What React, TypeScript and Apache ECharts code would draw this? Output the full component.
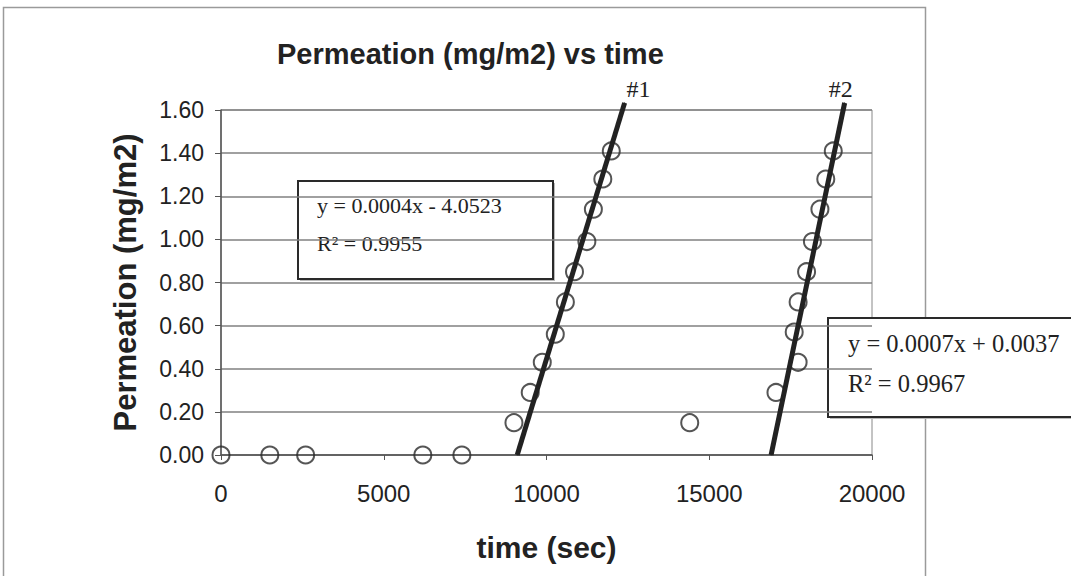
import React, { useEffect, useRef } from "react";
import * as echarts from "echarts";

const xTicks = { min: 0, max: 20000, interval: 5000 };
const yTicks = { min: 0, max: 1.6, interval: 0.2 };

const timeA = [0, 1500, 2600, 6200, 7400, 9000, 9500, 9870, 10270, 10580, 10860, 11240, 11440, 11730, 11990];
const permA = [0, 0, 0, 0, 0, 0.15, 0.29, 0.43, 0.56, 0.71, 0.85, 0.99, 1.14, 1.28, 1.41];

const timeB = [14400, 17050, 17730, 17610, 17730, 17990, 18170, 18400, 18580, 18810];
const permB = [0.15, 0.29, 0.43, 0.57, 0.71, 0.85, 0.99, 1.14, 1.28, 1.41];

const trend1Time = [9100, 12400];
const trend1Perm = [0, 1.633];
const trend2Time = [16900, 19160];
const trend2Perm = [0, 1.633];

const trendNames = ["#1", "#2"];
const eq1 = ["y = 0.0004x - 4.0523", "R² = 0.9955"];
const eq2 = ["y = 0.0007x + 0.0037", "R² = 0.9967"];

const SANS = "'Liberation Sans', Arial, sans-serif";
const SERIF = "'Liberation Serif', 'Times New Roman', serif";

function zip(xs: number[], ys: number[]) {
  return xs.map((x, i) => [x, ys[i]]);
}

function trendData(xs: number[], ys: number[], offset: number[]) {
  const pts = zip(xs, ys);
  return pts.map((p, i) =>
    i === pts.length - 1
      ? {
          value: p,
          label: {
            show: true,
            position: "top",
            distance: 3,
            offset,
            formatter: "{a}",
            fontFamily: SERIF,
            fontSize: 24,
            color: "#222",
          },
        }
      : { value: p }
  );
}

export default function App() {
  const ref = useRef<HTMLDivElement>(null);
  useEffect(() => {
    if (!ref.current) return;
    const chart = echarts.init(ref.current, null, { renderer: "svg" });
    const circleStyle = {
      color: "rgba(0,0,0,0)",
      borderColor: "#2a2a2a",
      borderWidth: 2,
    };
    chart.setOption({
      animation: false,
      backgroundColor: "#fff",
      title: {
        text: "Permeation (mg/m2) vs time",
        left: 272,
        top: 34,
        textStyle: { fontFamily: SANS, fontSize: 29, fontWeight: "bold", color: "#222" },
      },
      grid: {
        left: 221,
        right: 199,
        top: 110,
        bottom: 121,
        show: true,
        borderColor: "#888",
        borderWidth: 1,
        containLabel: false,
      },
      xAxis: {
        type: "value",
        min: xTicks.min,
        max: xTicks.max,
        interval: xTicks.interval,
        name: "time (sec)",
        nameLocation: "middle",
        nameGap: 77,
        nameTextStyle: { fontFamily: SANS, fontSize: 30, fontWeight: "bold", color: "#222" },
        axisLine: { show: true, onZero: false, lineStyle: { color: "#555", width: 1.5 } },
        axisTick: { show: true, length: 5, lineStyle: { color: "#555" } },
        axisLabel: {
          fontFamily: SANS,
          fontSize: 24,
          color: "#222",
          margin: 26,
          formatter: (v: number) => String(v),
        },
        splitLine: { show: false },
      },
      yAxis: {
        type: "value",
        min: yTicks.min,
        max: yTicks.max,
        interval: yTicks.interval,
        name: "Permeation (mg/m2)",
        nameLocation: "middle",
        nameGap: 80,
        nameTextStyle: { fontFamily: SANS, fontSize: 31, fontWeight: "bold", color: "#222" },
        axisLine: { show: true, lineStyle: { color: "#555", width: 1.5 } },
        axisTick: { show: true, length: 6, lineStyle: { color: "#555" } },
        axisLabel: {
          fontFamily: SANS,
          fontSize: 23,
          color: "#222",
          margin: 17,
          formatter: (v: number) => v.toFixed(2),
        },
        splitLine: { show: true, lineStyle: { color: "#808080", width: 1.5 } },
      },
      series: [
        {
          name: "Run 1",
          type: "scatter",
          data: zip(timeA, permA),
          symbol: "circle",
          symbolSize: 17,
          itemStyle: circleStyle,
          clip: false,
          z: 2,
        },
        {
          name: "Run 2",
          type: "scatter",
          data: zip(timeB, permB),
          symbol: "circle",
          symbolSize: 17,
          itemStyle: circleStyle,
          clip: false,
          z: 2,
        },
        {
          name: trendNames[0],
          type: "line",
          data: trendData(trend1Time, trend1Perm, [14, 2]),
          symbol: "circle",
          symbolSize: 1,
          showSymbol: true,
          itemStyle: { color: "#222" },
          lineStyle: { color: "#222", width: 5 },
          clip: false,
          z: 3,
        },
        {
          name: trendNames[1],
          type: "line",
          data: trendData(trend2Time, trend2Perm, [-4, 2]),
          symbol: "circle",
          symbolSize: 1,
          showSymbol: true,
          itemStyle: { color: "#222" },
          lineStyle: { color: "#222", width: 5 },
          clip: false,
          z: 3,
        },
      ],
      graphic: [
        {
          type: "rect",
          shape: { x: 3.5, y: 7.5, width: 922, height: 620 },
          style: { fill: "none", stroke: "#9a9a9a", lineWidth: 1.5 },
          silent: true,
          z: -1,
        },
        {
          type: "group",
          z: 10,
          children: [
            {
              type: "rect",
              shape: { x: 300, y: 183, width: 255, height: 98 },
              style: { fill: "#bbb" },
            },
            {
              type: "rect",
              shape: { x: 298, y: 181, width: 255, height: 98 },
              style: { fill: "#fff", stroke: "#2a2a2a", lineWidth: 2 },
            },
            {
              type: "text",
              x: 317,
              y: 205,
              style: { text: eq1[0], fontFamily: SERIF, fontSize: 22, fill: "#222", verticalAlign: "middle" },
            },
            {
              type: "text",
              x: 317,
              y: 243,
              style: { text: eq1[1], fontFamily: SERIF, fontSize: 22, fill: "#222", verticalAlign: "middle" },
            },
          ],
        },
        {
          type: "group",
          z: 10,
          children: [
            {
              type: "rect",
              shape: { x: 830, y: 320, width: 260, height: 99 },
              style: { fill: "#bbb" },
            },
            {
              type: "rect",
              shape: { x: 828, y: 318, width: 260, height: 99 },
              style: { fill: "#fff", stroke: "#2a2a2a", lineWidth: 2 },
            },
            {
              type: "text",
              x: 848,
              y: 343,
              style: { text: eq2[0], fontFamily: SERIF, fontSize: 24.5, fill: "#222", verticalAlign: "middle" },
            },
            {
              type: "text",
              x: 848,
              y: 383,
              style: { text: eq2[1], fontFamily: SERIF, fontSize: 24.5, fill: "#222", verticalAlign: "middle" },
            },
          ],
        },
      ],
    });
    return () => chart.dispose();
  }, []);
  return (
    <div
      ref={ref}
      style={{ position: "fixed", left: 0, top: 0, width: 1071, height: 576 }}
    />
  );
}
